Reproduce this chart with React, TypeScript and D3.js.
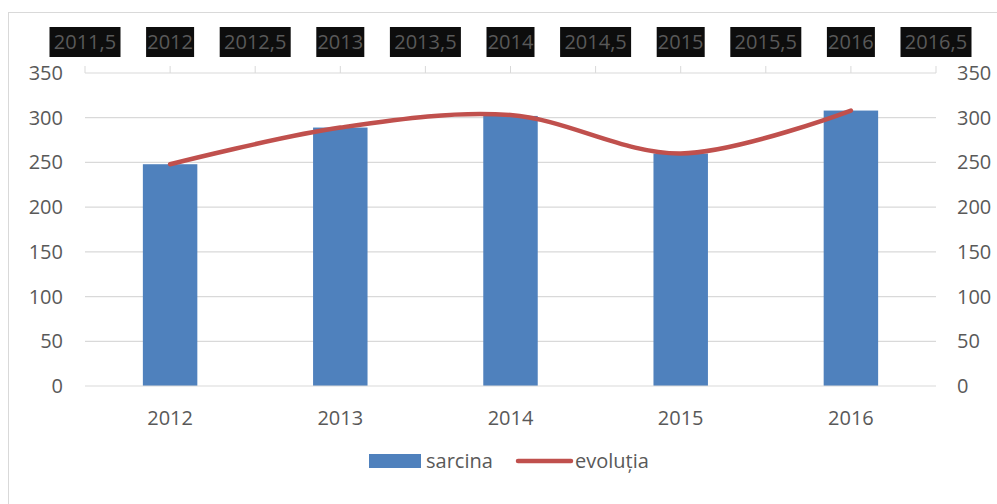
import React from 'react';
import * as d3 from 'd3';

const years = ['2012', '2013', '2014', '2015', '2016'];
const sarcina = [248, 289, 302, 260, 308];
const evolutia = [248, 289, 303, 260, 308];
const topTicks = [2011.5, 2012, 2012.5, 2013, 2013.5, 2014, 2014.5, 2015, 2015.5, 2016, 2016.5];
const yTicks = [0, 50, 100, 150, 200, 250, 300, 350];

const W = 997;
const H = 504;
const left = 85;
const right = 936;
const top = 73;
const bottom = 386;
const font = '"Open Sans", "Noto Sans", sans-serif';
const fs = 20;

const App = () => {
  const x = d3.scaleBand().domain(years).range([left, right]).paddingInner(0.68).paddingOuter(0.34);
  const xTop = d3.scaleLinear().domain([2011.5, 2016.5]).range([left, right]);
  const y = d3.scaleLinear().domain([0, 350]).range([bottom, top]);

  const line = d3.line<number>()
    .x((d, i) => xTop(+years[i]))
    .y(d => y(d))
    .curve(d3.curveCatmullRom.alpha(0.5));

  return (
    <svg width={W} height={H} style={{ position: 'absolute', left: 0, top: 0, background: '#fff' }}>
      <rect x={8.5} y={12.5} width={1000} height={500} fill="#fff" stroke="#d9d9d9" />
      {yTicks.map(t => (
        <g key={t}>
          {t > 0 && t < 350 && (
            <line x1={left} x2={right} y1={y(t)} y2={y(t)} stroke="#d9d9d9" strokeWidth={1.2} />
          )}
          <text x={63} y={y(t)} dy="0.35em" textAnchor="end" fontSize={fs} fill="#595959" fontFamily={font}>{t}</text>
          <text x={957} y={y(t)} dy="0.35em" textAnchor="start" fontSize={fs} fill="#595959" fontFamily={font}>{t}</text>
        </g>
      ))}
      {/* top secondary axis */}
      <line x1={left} x2={right} y1={top} y2={top} stroke="#d9d9d9" strokeWidth={1.2} />
      {topTicks.map(t => {
        const label = String(t).replace('.', ',');
        const w = label.length * 11.5 + 2;
        return (
          <g key={t}>
            <line x1={xTop(t)} x2={xTop(t)} y1={top - 7} y2={top} stroke="#d9d9d9" />
            <rect x={xTop(t) - w / 2} y={27} width={w} height={30} fill="#0d0d0d" />
            <text x={xTop(t)} y={42} dy="0.35em" textAnchor="middle" fontSize={fs} fill="#595959" fontFamily={font}>{label}</text>
          </g>
        );
      })}
      {sarcina.map((v, i) => (
        <rect key={years[i]} x={x(years[i])} y={y(v)} width={x.bandwidth()} height={bottom - y(v)} fill="#4f81bd" />
      ))}
      <line x1={left} x2={right} y1={bottom} y2={bottom} stroke="#d9d9d9" strokeWidth={1.2} />
      {years.map(yr => (
        <text key={yr} x={(x(yr) ?? 0) + x.bandwidth() / 2} y={418} dy="0.35em" textAnchor="middle" fontSize={fs} fill="#595959" fontFamily={font}>{yr}</text>
      ))}
      <path d={line(evolutia) ?? ''} fill="none" stroke="#c0504d" strokeWidth={4.5} strokeLinecap="round" />
      {/* legend */}
      <rect x={369} y={454} width={52} height={14} fill="#4f81bd" />
      <text x={426} y={461} dy="0.35em" fontSize={fs} fill="#595959" fontFamily={font}>sarcina</text>
      <line x1={518} x2={571} y1={461} y2={461} stroke="#c0504d" strokeWidth={4.5} strokeLinecap="round" />
      <text x={575} y={461} dy="0.35em" fontSize={fs} fill="#595959" fontFamily={font}>evoluția</text>
    </svg>
  );
};

export default App;
